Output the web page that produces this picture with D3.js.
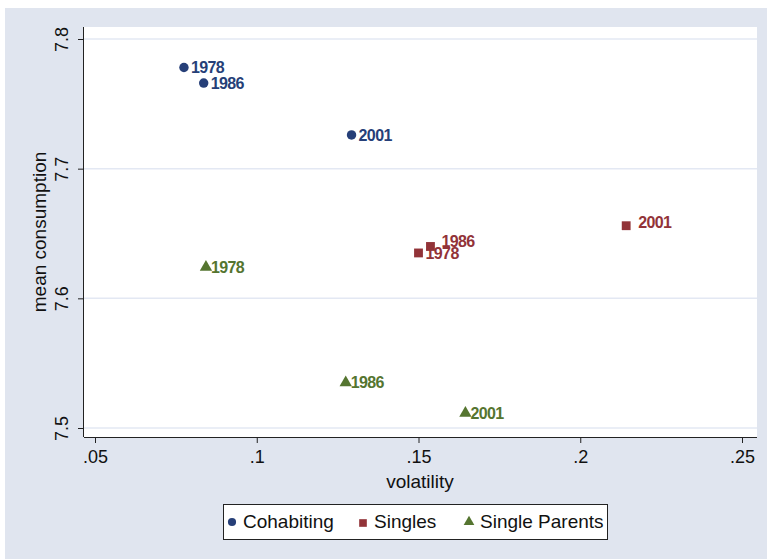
<!DOCTYPE html>
<html>
<head>
<meta charset="utf-8">
<script src="https://cdn.jsdelivr.net/npm/d3@7"></script>
<style>
  body { margin: 0; background: #fff; }
  svg { display: block; font-family: "Liberation Sans", Arial, sans-serif; }
</style>
</head>
<body>
<svg id="chart" width="767" height="559"></svg>
<script>
// data
const seriesNames = ["Cohabiting", "Singles", "Single Parents"];
const years = ["1978", "1986", "2001"];
const cohabVol = [0.0775, 0.0836, 0.1293];
const cohabCons = [7.778, 7.766, 7.726];
const singlesVol = [0.1500, 0.1537, 0.2142];
const singlesCons = [7.635, 7.640, 7.656];
const parentsVol = [0.0843, 0.1275, 0.1645];
const parentsCons = [7.624, 7.535, 7.5115];
const xTicks = [0.05, 0.1, 0.15, 0.2, 0.25];
const xTickLabels = [".05", ".1", ".15", ".2", ".25"];
const yTicks = [7.5, 7.6, 7.7, 7.8];

const colors = ["#263f78", "#923338", "#557530"];
const shapes = [d3.symbolCircle, d3.symbolSquare, d3.symbolTriangle];
const labelDx = [[7, 7, 7], [7, 11, 12], [5, 5, 5]];
const labelDy = [[0, 0, 0], [0, -5, -3], [0, 0, 0]];

const series = [
  {vol: cohabVol, cons: cohabCons},
  {vol: singlesVol, cons: singlesCons},
  {vol: parentsVol, cons: parentsCons}
];

const svg = d3.select("#chart");
const margin = {left: 84, top: 27, right: 757, bottom: 437};

// outer background
svg.append("rect").attr("x", 5).attr("y", 8).attr("width", 762).attr("height", 551)
  .attr("fill", "#e0e5ef");
// plot region
svg.append("rect").attr("x", margin.left).attr("y", margin.top)
  .attr("width", margin.right - margin.left).attr("height", margin.bottom - margin.top)
  .attr("fill", "#fff");

const x = d3.scaleLinear().domain([0.05, 0.25]).range([95, 742]);
const y = d3.scaleLinear().domain([7.5, 7.8]).range([428, 39]);

// gridlines
svg.append("g").selectAll("line").data(yTicks).enter().append("line")
  .attr("x1", margin.left).attr("x2", margin.right)
  .attr("y1", d => y(d)).attr("y2", d => y(d))
  .attr("stroke", "#e3e8f3").attr("stroke-width", 1.5);

// x axis
const xAxis = svg.append("g")
  .attr("transform", "translate(0," + margin.bottom + ")")
  .call(d3.axisBottom(x).tickValues(xTicks).tickFormat((d, i) => xTickLabels[i]).tickSize(6).tickSizeOuter(0));
xAxis.select(".domain").attr("d", "M" + margin.left + ",0.5H" + margin.right).attr("stroke", "#222");
xAxis.selectAll(".tick line").attr("stroke", "#222");
xAxis.selectAll("text").attr("font-size", 18).attr("fill", "#111")
  .attr("font-family", "Liberation Sans, Arial, sans-serif").attr("y", 10).attr("dy", "0.9em");

// y axis
const yAxis = svg.append("g")
  .attr("transform", "translate(" + margin.left + ",0)")
  .call(d3.axisLeft(y).tickValues(yTicks).tickFormat(d3.format(".1f")).tickSize(6).tickSizeOuter(0));
yAxis.select(".domain").attr("d", "M-0.5," + margin.top + "V" + margin.bottom).attr("stroke", "#222");
yAxis.selectAll(".tick line").attr("stroke", "#222");
yAxis.selectAll("text").attr("font-size", 18).attr("fill", "#111")
  .attr("font-family", "Liberation Sans, Arial, sans-serif")
  .attr("x", null).attr("dy", null)
  .attr("text-anchor", "middle")
  .attr("transform", "translate(-16,0) rotate(-90)");

// axis titles
svg.append("text").attr("x", 420).attr("y", 488).attr("text-anchor", "middle")
  .attr("font-size", 19).attr("fill", "#111").text("volatility");
svg.append("text").attr("transform", "translate(46,232) rotate(-90)")
  .attr("text-anchor", "middle").attr("font-size", 19).attr("fill", "#111").text("mean consumption");

// markers and labels
const sizes = [70, 78, 66];
series.forEach((s, k) => {
  const g = svg.append("g");
  const pts = years.map((yr, i) => ({yr: yr, v: s.vol[i], c: s.cons[i], i: i}));
  g.selectAll("path").data(pts).enter().append("path")
    .attr("d", d3.symbol().type(shapes[k]).size(sizes[k]))
    .attr("transform", d => "translate(" + x(d.v) + "," + y(d.c) + ")")
    .attr("fill", colors[k]);
  g.selectAll("text").data(pts).enter().append("text")
    .attr("x", d => x(d.v) + labelDx[k][d.i])
    .attr("y", d => y(d.c) + labelDy[k][d.i])
    .attr("dy", "0.36em")
    .attr("font-size", 16).attr("font-weight", "bold").attr("letter-spacing", "-0.6px")
    .attr("fill", colors[k]).text(d => d.yr);
});

// legend
const legend = svg.append("g");
legend.append("rect").attr("x", 223.5).attr("y", 504.5).attr("width", 384).attr("height", 35)
  .attr("fill", "#fff").attr("stroke", "#222");
const legX = [232, 363, 469];
seriesNames.forEach((name, k) => {
  legend.append("path")
    .attr("d", d3.symbol().type(shapes[k]).size(sizes[k] * 0.75))
    .attr("transform", "translate(" + legX[k] + "," + (k === 1 ? 523 : 522) + ")")
    .attr("fill", colors[k]);
  legend.append("text").attr("x", legX[k] + 11).attr("y", 521).attr("dy", "0.36em")
    .attr("font-size", 19).attr("fill", "#111").text(name);
});
</script>
</body>
</html>
